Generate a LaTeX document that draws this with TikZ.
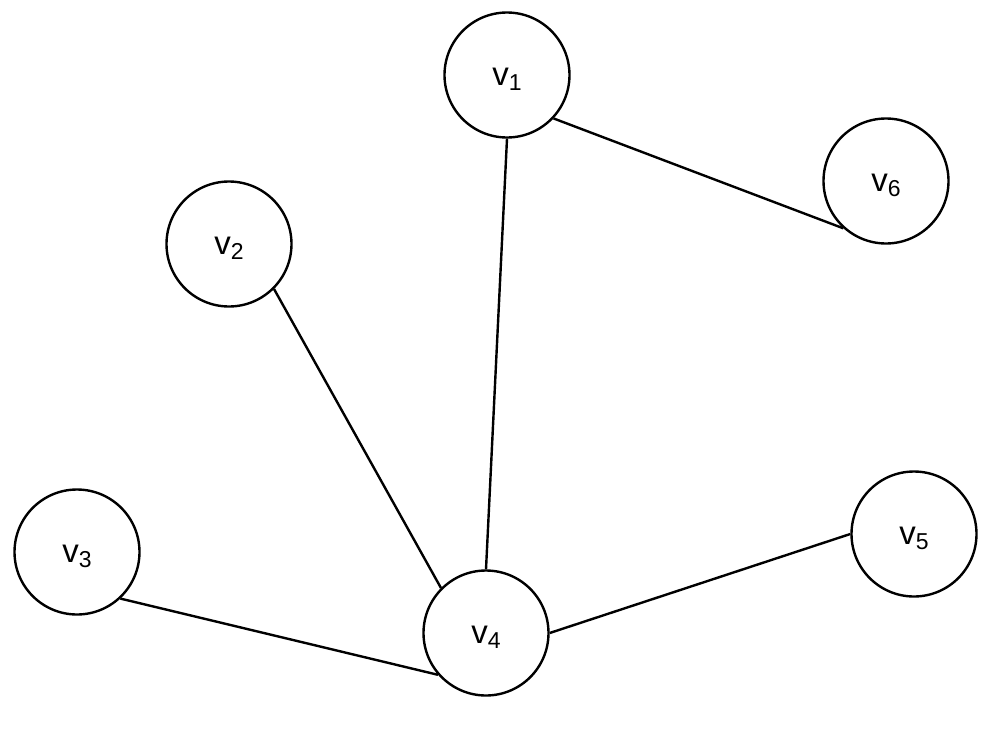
\documentclass[tikz,border=0pt]{standalone}
\usepackage{fontspec}
\setmainfont{Liberation Sans}
% vertex label: a large "v" with a lowered, smaller index, set a little below the centre
\newcommand{\vlabel}[1]{\raisebox{-4pt}{\fontsize{33}{38}\selectfont v\raisebox{-5pt}{\fontsize{23}{27}\selectfont #1}}}
\begin{document}
\begin{tikzpicture}[x=1pt,y=-1pt,
  vertex/.style={circle,draw,line width=2.4pt,minimum size=125pt,inner sep=0pt,text depth=0pt},
  edge/.style={line width=2.4pt}]
\useasboundingbox (0,0) rectangle (983,734);
\node[vertex] (v1) at (507,75) {\vlabel{1}};
\node[vertex] (v2) at (229,244) {\vlabel{2}};
\node[vertex] (v3) at (77,552) {\vlabel{3}};
\node[vertex] (v4) at (486,633) {\vlabel{4}};
\node[vertex] (v5) at (914,534) {\vlabel{5}};
\node[vertex] (v6) at (886,181) {\vlabel{6}};
\draw[edge] (v1.south) -- (v4.north);
\draw[edge] (v1.-43) -- (v6.228);
\draw[edge] (v2.south east) -- (v4.north west);
\draw[edge] (v3.-47) -- (v4.221);
\draw[edge] (v4.east) -- (v5.west);
\end{tikzpicture}
\end{document}
